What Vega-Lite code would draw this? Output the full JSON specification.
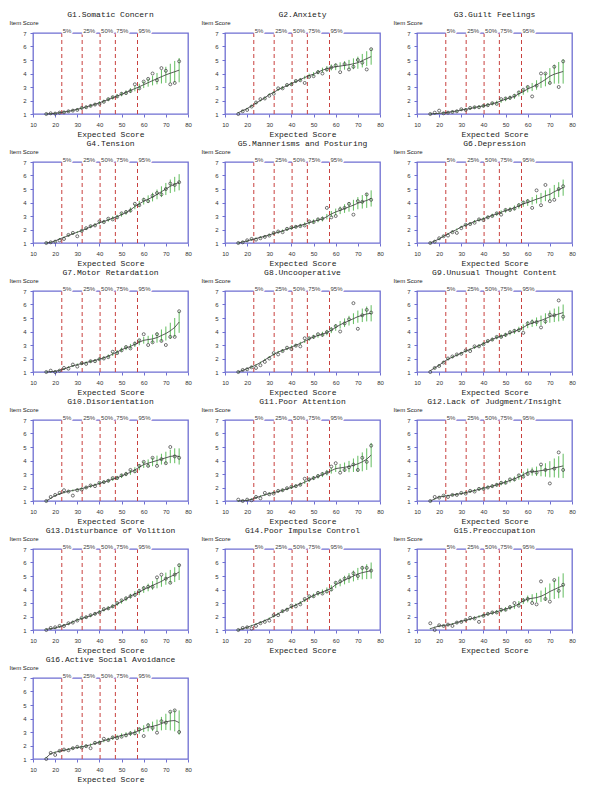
{
"$schema":"https://vega.github.io/schema/vega-lite/v6.json",
"background":"white",
"padding":{"left":8,"top":10,"right":4,"bottom":2},
"datasets":{"panels":[
{"p":1,"t":"G1.Somatic Concern"},{"p":2,"t":"G2.Anxiety"},{"p":3,"t":"G3.Guilt Feelings"},{"p":4,"t":"G4.Tension"},{"p":5,"t":"G5.Mannerisms and Posturing"},{"p":6,"t":"G6.Depression"},{"p":7,"t":"G7.Motor Retardation"},{"p":8,"t":"G8.Uncooperative"},{"p":9,"t":"G9.Unusual Thought Content"},{"p":10,"t":"G10.Disorientation"},{"p":11,"t":"G11.Poor Attention"},{"p":12,"t":"G12.Lack of Judgment/Insight"},{"p":13,"t":"G13.Disturbance of Volition"},{"p":14,"t":"G14.Poor Impulse Control"},{"p":15,"t":"G15.Preoccupation"},{"p":16,"t":"G16.Active Social Avoidance"}]},
"data":{"values":[
{"p":1,"q":"5%","v":23},{"p":1,"q":"25%","v":32.2},{"p":1,"q":"50%","v":40.3},{"p":1,"q":"75%","v":47.2},{"p":1,"q":"95%","v":57.2},
{"p":2,"q":"5%","v":23},{"p":2,"q":"25%","v":32.2},{"p":2,"q":"50%","v":40.3},{"p":2,"q":"75%","v":47.2},{"p":2,"q":"95%","v":57.2},
{"p":3,"q":"5%","v":23},{"p":3,"q":"25%","v":32.2},{"p":3,"q":"50%","v":40.3},{"p":3,"q":"75%","v":47.2},{"p":3,"q":"95%","v":57.2},
{"p":4,"q":"5%","v":23},{"p":4,"q":"25%","v":32.2},{"p":4,"q":"50%","v":40.3},{"p":4,"q":"75%","v":47.2},{"p":4,"q":"95%","v":57.2},
{"p":5,"q":"5%","v":23},{"p":5,"q":"25%","v":32.2},{"p":5,"q":"50%","v":40.3},{"p":5,"q":"75%","v":47.2},{"p":5,"q":"95%","v":57.2},
{"p":6,"q":"5%","v":23},{"p":6,"q":"25%","v":32.2},{"p":6,"q":"50%","v":40.3},{"p":6,"q":"75%","v":47.2},{"p":6,"q":"95%","v":57.2},
{"p":7,"q":"5%","v":23},{"p":7,"q":"25%","v":32.2},{"p":7,"q":"50%","v":40.3},{"p":7,"q":"75%","v":47.2},{"p":7,"q":"95%","v":57.2},
{"p":8,"q":"5%","v":23},{"p":8,"q":"25%","v":32.2},{"p":8,"q":"50%","v":40.3},{"p":8,"q":"75%","v":47.2},{"p":8,"q":"95%","v":57.2},
{"p":9,"q":"5%","v":23},{"p":9,"q":"25%","v":32.2},{"p":9,"q":"50%","v":40.3},{"p":9,"q":"75%","v":47.2},{"p":9,"q":"95%","v":57.2},
{"p":10,"q":"5%","v":23},{"p":10,"q":"25%","v":32.2},{"p":10,"q":"50%","v":40.3},{"p":10,"q":"75%","v":47.2},{"p":10,"q":"95%","v":57.2},
{"p":11,"q":"5%","v":23},{"p":11,"q":"25%","v":32.2},{"p":11,"q":"50%","v":40.3},{"p":11,"q":"75%","v":47.2},{"p":11,"q":"95%","v":57.2},
{"p":12,"q":"5%","v":23},{"p":12,"q":"25%","v":32.2},{"p":12,"q":"50%","v":40.3},{"p":12,"q":"75%","v":47.2},{"p":12,"q":"95%","v":57.2},
{"p":13,"q":"5%","v":23},{"p":13,"q":"25%","v":32.2},{"p":13,"q":"50%","v":40.3},{"p":13,"q":"75%","v":47.2},{"p":13,"q":"95%","v":57.2},
{"p":14,"q":"5%","v":23},{"p":14,"q":"25%","v":32.2},{"p":14,"q":"50%","v":40.3},{"p":14,"q":"75%","v":47.2},{"p":14,"q":"95%","v":57.2},
{"p":15,"q":"5%","v":23},{"p":15,"q":"25%","v":32.2},{"p":15,"q":"50%","v":40.3},{"p":15,"q":"75%","v":47.2},{"p":15,"q":"95%","v":57.2},
{"p":16,"q":"5%","v":23},{"p":16,"q":"25%","v":32.2},{"p":16,"q":"50%","v":40.3},{"p":16,"q":"75%","v":47.2},{"p":16,"q":"95%","v":57.2},
{"p":1,"x":16,"m":1,"o":1,"e":0.05},{"p":1,"x":18,"m":1.02,"o":1.05,"e":0.05},{"p":1,"x":20,"m":1.05,"o":1.03,"e":0.06},{"p":1,"x":22,"m":1.1,"o":1.1,"e":0.06},{"p":1,"x":24,"m":1.15,"o":1.12,"e":0.07},{"p":1,"x":26,"m":1.2,"o":1.2,"e":0.07},{"p":1,"x":28,"m":1.27,"o":1.25,"e":0.08},{"p":1,"x":30,"m":1.35,"o":1.3,"e":0.08},{"p":1,"x":32,"m":1.43,"o":1.45,"e":0.09},{"p":1,"x":34,"m":1.52,"o":1.5,"e":0.09},{"p":1,"x":36,"m":1.62,"o":1.6,"e":0.1},{"p":1,"x":38,"m":1.72,"o":1.7,"e":0.1},{"p":1,"x":40,"m":1.83,"o":1.75,"e":0.11},{"p":1,"x":42,"m":1.95,"o":1.9,"e":0.11},{"p":1,"x":44,"m":2.07,"o":2.1,"e":0.12},{"p":1,"x":46,"m":2.2,"o":2.25,"e":0.13},{"p":1,"x":48,"m":2.33,"o":2.3,"e":0.14},{"p":1,"x":50,"m":2.46,"o":2.5,"e":0.15},{"p":1,"x":52,"m":2.6,"o":2.55,"e":0.16},{"p":1,"x":54,"m":2.74,"o":2.7,"e":0.18},{"p":1,"x":56,"m":2.88,"o":3.2,"e":0.2},{"p":1,"x":58,"m":3.02,"o":2.9,"e":0.22},{"p":1,"x":60,"m":3.17,"o":3.4,"e":0.25},{"p":1,"x":62,"m":3.32,"o":3.6,"e":0.3},{"p":1,"x":64,"m":3.47,"o":4.0,"e":0.35},{"p":1,"x":66,"m":3.62,"o":3.5,"e":0.42},{"p":1,"x":68,"m":3.76,"o":4.4,"e":0.5},{"p":1,"x":70,"m":3.9,"o":4.2,"e":0.6},{"p":1,"x":72,"m":4.02,"o":3.2,"e":0.7},{"p":1,"x":74,"m":4.13,"o":3.3,"e":0.8},{"p":1,"x":76,"m":4.25,"o":4.9,"e":0.9},
{"p":2,"x":16,"m":1.1,"o":1,"e":0.05},{"p":2,"x":18,"m":1.25,"o":1.2,"e":0.05},{"p":2,"x":20,"m":1.4,"o":1.3,"e":0.06},{"p":2,"x":22,"m":1.6,"o":1.55,"e":0.06},{"p":2,"x":24,"m":1.8,"o":1.85,"e":0.07},{"p":2,"x":26,"m":2.0,"o":2.1,"e":0.07},{"p":2,"x":28,"m":2.2,"o":2.15,"e":0.08},{"p":2,"x":30,"m":2.45,"o":2.35,"e":0.08},{"p":2,"x":32,"m":2.6,"o":2.5,"e":0.09},{"p":2,"x":34,"m":2.8,"o":2.9,"e":0.09},{"p":2,"x":36,"m":2.95,"o":2.9,"e":0.1},{"p":2,"x":38,"m":3.1,"o":3.15,"e":0.1},{"p":2,"x":40,"m":3.25,"o":3.2,"e":0.11},{"p":2,"x":42,"m":3.4,"o":3.45,"e":0.11},{"p":2,"x":44,"m":3.55,"o":3.5,"e":0.12},{"p":2,"x":46,"m":3.7,"o":3.3,"e":0.13},{"p":2,"x":48,"m":3.85,"o":3.75,"e":0.14},{"p":2,"x":50,"m":3.95,"o":3.8,"e":0.15},{"p":2,"x":52,"m":4.1,"o":4.1,"e":0.16},{"p":2,"x":54,"m":4.25,"o":4.0,"e":0.18},{"p":2,"x":56,"m":4.35,"o":4.3,"e":0.2},{"p":2,"x":58,"m":4.45,"o":4.45,"e":0.22},{"p":2,"x":60,"m":4.5,"o":4.6,"e":0.25},{"p":2,"x":62,"m":4.55,"o":4.1,"e":0.28},{"p":2,"x":64,"m":4.6,"o":4.7,"e":0.32},{"p":2,"x":66,"m":4.65,"o":4.3,"e":0.36},{"p":2,"x":68,"m":4.72,"o":4.5,"e":0.4},{"p":2,"x":70,"m":4.8,"o":5.0,"e":0.45},{"p":2,"x":72,"m":4.95,"o":4.8,"e":0.5},{"p":2,"x":74,"m":5.1,"o":4.3,"e":0.55},{"p":2,"x":76,"m":5.25,"o":5.8,"e":0.6},
{"p":3,"x":16,"m":1,"o":1,"e":0.05},{"p":3,"x":18,"m":1.02,"o":1.1,"e":0.05},{"p":3,"x":20,"m":1.05,"o":1.25,"e":0.06},{"p":3,"x":22,"m":1.08,"o":1.05,"e":0.06},{"p":3,"x":24,"m":1.12,"o":1.1,"e":0.07},{"p":3,"x":26,"m":1.18,"o":1.15,"e":0.07},{"p":3,"x":28,"m":1.22,"o":1.2,"e":0.08},{"p":3,"x":30,"m":1.3,"o":1.35,"e":0.08},{"p":3,"x":32,"m":1.35,"o":1.3,"e":0.09},{"p":3,"x":34,"m":1.4,"o":1.45,"e":0.09},{"p":3,"x":36,"m":1.48,"o":1.5,"e":0.1},{"p":3,"x":38,"m":1.55,"o":1.5,"e":0.1},{"p":3,"x":40,"m":1.6,"o":1.6,"e":0.11},{"p":3,"x":42,"m":1.68,"o":1.65,"e":0.11},{"p":3,"x":44,"m":1.76,"o":1.8,"e":0.12},{"p":3,"x":46,"m":1.85,"o":1.75,"e":0.13},{"p":3,"x":48,"m":1.97,"o":2.1,"e":0.14},{"p":3,"x":50,"m":2.1,"o":2.15,"e":0.15},{"p":3,"x":52,"m":2.2,"o":2.2,"e":0.16},{"p":3,"x":54,"m":2.3,"o":2.35,"e":0.18},{"p":3,"x":56,"m":2.5,"o":2.6,"e":0.2},{"p":3,"x":58,"m":2.65,"o":2.8,"e":0.22},{"p":3,"x":60,"m":2.85,"o":3.0,"e":0.25},{"p":3,"x":62,"m":3.0,"o":2.3,"e":0.3},{"p":3,"x":64,"m":3.15,"o":3.1,"e":0.35},{"p":3,"x":66,"m":3.35,"o":4.0,"e":0.42},{"p":3,"x":68,"m":3.55,"o":4.0,"e":0.5},{"p":3,"x":70,"m":3.8,"o":3.3,"e":0.6},{"p":3,"x":72,"m":3.95,"o":4.5,"e":0.7},{"p":3,"x":74,"m":4.05,"o":3.0,"e":0.8},{"p":3,"x":76,"m":4.15,"o":4.9,"e":0.9},
{"p":4,"x":16,"m":1,"o":1,"e":0.05},{"p":4,"x":18,"m":1.05,"o":1.05,"e":0.05},{"p":4,"x":20,"m":1.15,"o":1.1,"e":0.06},{"p":4,"x":22,"m":1.3,"o":1.2,"e":0.06},{"p":4,"x":24,"m":1.42,"o":1.3,"e":0.07},{"p":4,"x":26,"m":1.55,"o":1.6,"e":0.07},{"p":4,"x":28,"m":1.68,"o":1.75,"e":0.08},{"p":4,"x":30,"m":1.8,"o":1.5,"e":0.08},{"p":4,"x":32,"m":1.92,"o":1.9,"e":0.09},{"p":4,"x":34,"m":2.05,"o":2.1,"e":0.09},{"p":4,"x":36,"m":2.2,"o":2.25,"e":0.1},{"p":4,"x":38,"m":2.35,"o":2.3,"e":0.1},{"p":4,"x":40,"m":2.5,"o":2.6,"e":0.11},{"p":4,"x":42,"m":2.6,"o":2.55,"e":0.11},{"p":4,"x":44,"m":2.7,"o":2.8,"e":0.12},{"p":4,"x":46,"m":2.85,"o":2.75,"e":0.13},{"p":4,"x":48,"m":2.95,"o":2.9,"e":0.14},{"p":4,"x":50,"m":3.1,"o":3.2,"e":0.15},{"p":4,"x":52,"m":3.25,"o":3.3,"e":0.16},{"p":4,"x":54,"m":3.45,"o":3.4,"e":0.18},{"p":4,"x":56,"m":3.7,"o":3.9,"e":0.2},{"p":4,"x":58,"m":3.9,"o":3.8,"e":0.22},{"p":4,"x":60,"m":4.1,"o":4.2,"e":0.25},{"p":4,"x":62,"m":4.25,"o":4.1,"e":0.28},{"p":4,"x":64,"m":4.4,"o":4.5,"e":0.32},{"p":4,"x":66,"m":4.6,"o":4.7,"e":0.36},{"p":4,"x":68,"m":4.8,"o":4.6,"e":0.4},{"p":4,"x":70,"m":5.0,"o":5.0,"e":0.45},{"p":4,"x":72,"m":5.2,"o":5.4,"e":0.5},{"p":4,"x":74,"m":5.35,"o":5.3,"e":0.55},{"p":4,"x":76,"m":5.5,"o":5.5,"e":0.6},
{"p":5,"x":16,"m":1,"o":1,"e":0.05},{"p":5,"x":18,"m":1.08,"o":1.05,"e":0.05},{"p":5,"x":20,"m":1.15,"o":1.2,"e":0.06},{"p":5,"x":22,"m":1.25,"o":1.3,"e":0.06},{"p":5,"x":24,"m":1.33,"o":1.25,"e":0.07},{"p":5,"x":26,"m":1.42,"o":1.35,"e":0.07},{"p":5,"x":28,"m":1.5,"o":1.45,"e":0.08},{"p":5,"x":30,"m":1.6,"o":1.55,"e":0.08},{"p":5,"x":32,"m":1.7,"o":1.75,"e":0.09},{"p":5,"x":34,"m":1.8,"o":1.85,"e":0.09},{"p":5,"x":36,"m":1.9,"o":1.8,"e":0.1},{"p":5,"x":38,"m":2.0,"o":2.05,"e":0.1},{"p":5,"x":40,"m":2.1,"o":2.15,"e":0.11},{"p":5,"x":42,"m":2.2,"o":2.2,"e":0.11},{"p":5,"x":44,"m":2.3,"o":2.25,"e":0.12},{"p":5,"x":46,"m":2.4,"o":2.3,"e":0.13},{"p":5,"x":48,"m":2.5,"o":2.6,"e":0.14},{"p":5,"x":50,"m":2.6,"o":2.55,"e":0.15},{"p":5,"x":52,"m":2.7,"o":2.75,"e":0.16},{"p":5,"x":54,"m":2.78,"o":2.8,"e":0.18},{"p":5,"x":56,"m":2.95,"o":3.6,"e":0.2},{"p":5,"x":58,"m":3.15,"o":2.9,"e":0.22},{"p":5,"x":60,"m":3.3,"o":3.0,"e":0.25},{"p":5,"x":62,"m":3.42,"o":3.5,"e":0.28},{"p":5,"x":64,"m":3.55,"o":3.6,"e":0.32},{"p":5,"x":66,"m":3.68,"o":3.9,"e":0.36},{"p":5,"x":68,"m":3.8,"o":3.1,"e":0.4},{"p":5,"x":70,"m":3.95,"o":4.1,"e":0.45},{"p":5,"x":72,"m":4.05,"o":4.05,"e":0.5},{"p":5,"x":74,"m":4.15,"o":4.6,"e":0.55},{"p":5,"x":76,"m":4.3,"o":4.2,"e":0.6},
{"p":6,"x":16,"m":1,"o":1,"e":0.05},{"p":6,"x":18,"m":1.15,"o":1.1,"e":0.05},{"p":6,"x":20,"m":1.3,"o":1.35,"e":0.06},{"p":6,"x":22,"m":1.5,"o":1.5,"e":0.06},{"p":6,"x":24,"m":1.68,"o":1.55,"e":0.07},{"p":6,"x":26,"m":1.85,"o":1.8,"e":0.07},{"p":6,"x":28,"m":2.0,"o":1.75,"e":0.08},{"p":6,"x":30,"m":2.2,"o":2.1,"e":0.08},{"p":6,"x":32,"m":2.32,"o":2.35,"e":0.09},{"p":6,"x":34,"m":2.45,"o":2.4,"e":0.09},{"p":6,"x":36,"m":2.6,"o":2.5,"e":0.1},{"p":6,"x":38,"m":2.7,"o":2.75,"e":0.1},{"p":6,"x":40,"m":2.8,"o":2.7,"e":0.11},{"p":6,"x":42,"m":2.92,"o":2.9,"e":0.11},{"p":6,"x":44,"m":3.05,"o":3.0,"e":0.12},{"p":6,"x":46,"m":3.15,"o":3.2,"e":0.13},{"p":6,"x":48,"m":3.28,"o":3.1,"e":0.14},{"p":6,"x":50,"m":3.4,"o":3.45,"e":0.15},{"p":6,"x":52,"m":3.5,"o":3.45,"e":0.16},{"p":6,"x":54,"m":3.6,"o":3.55,"e":0.18},{"p":6,"x":56,"m":3.75,"o":3.8,"e":0.2},{"p":6,"x":58,"m":3.9,"o":4.0,"e":0.22},{"p":6,"x":60,"m":4.0,"o":4.1,"e":0.25},{"p":6,"x":62,"m":4.12,"o":3.6,"e":0.28},{"p":6,"x":64,"m":4.25,"o":4.9,"e":0.32},{"p":6,"x":66,"m":4.35,"o":3.8,"e":0.36},{"p":6,"x":68,"m":4.5,"o":5.3,"e":0.4},{"p":6,"x":70,"m":4.6,"o":4.1,"e":0.45},{"p":6,"x":72,"m":4.8,"o":4.2,"e":0.5},{"p":6,"x":74,"m":4.95,"o":5.0,"e":0.55},{"p":6,"x":76,"m":5.1,"o":5.2,"e":0.6},
{"p":7,"x":16,"m":1,"o":1,"e":0.05},{"p":7,"x":18,"m":1.02,"o":1.1,"e":0.05},{"p":7,"x":20,"m":1.05,"o":1,"e":0.06},{"p":7,"x":22,"m":1.12,"o":1.1,"e":0.06},{"p":7,"x":24,"m":1.22,"o":1.3,"e":0.07},{"p":7,"x":26,"m":1.35,"o":1.25,"e":0.07},{"p":7,"x":28,"m":1.45,"o":1.55,"e":0.08},{"p":7,"x":30,"m":1.55,"o":1.4,"e":0.08},{"p":7,"x":32,"m":1.62,"o":1.65,"e":0.09},{"p":7,"x":34,"m":1.7,"o":1.6,"e":0.09},{"p":7,"x":36,"m":1.78,"o":1.8,"e":0.1},{"p":7,"x":38,"m":1.86,"o":1.8,"e":0.1},{"p":7,"x":40,"m":1.95,"o":1.95,"e":0.11},{"p":7,"x":42,"m":2.05,"o":2.0,"e":0.11},{"p":7,"x":44,"m":2.18,"o":2.1,"e":0.12},{"p":7,"x":46,"m":2.32,"o":2.5,"e":0.13},{"p":7,"x":48,"m":2.48,"o":2.4,"e":0.14},{"p":7,"x":50,"m":2.65,"o":2.6,"e":0.15},{"p":7,"x":52,"m":2.78,"o":2.85,"e":0.16},{"p":7,"x":54,"m":2.9,"o":2.75,"e":0.18},{"p":7,"x":56,"m":3.05,"o":3.1,"e":0.2},{"p":7,"x":58,"m":3.2,"o":3.35,"e":0.22},{"p":7,"x":60,"m":3.35,"o":3.8,"e":0.25},{"p":7,"x":62,"m":3.4,"o":3.0,"e":0.28},{"p":7,"x":64,"m":3.45,"o":3.2,"e":0.32},{"p":7,"x":66,"m":3.55,"o":3.8,"e":0.38},{"p":7,"x":68,"m":3.7,"o":3.3,"e":0.45},{"p":7,"x":70,"m":3.85,"o":3.0,"e":0.52},{"p":7,"x":72,"m":4.05,"o":3.6,"e":0.6},{"p":7,"x":74,"m":4.3,"o":3.6,"e":0.7},{"p":7,"x":76,"m":4.7,"o":5.5,"e":0.8},
{"p":8,"x":16,"m":1,"o":1,"e":0.05},{"p":8,"x":18,"m":1.12,"o":1.15,"e":0.05},{"p":8,"x":20,"m":1.25,"o":1.2,"e":0.06},{"p":8,"x":22,"m":1.38,"o":1.35,"e":0.06},{"p":8,"x":24,"m":1.52,"o":1.3,"e":0.07},{"p":8,"x":26,"m":1.7,"o":1.5,"e":0.07},{"p":8,"x":28,"m":1.9,"o":1.75,"e":0.08},{"p":8,"x":30,"m":2.1,"o":2.0,"e":0.08},{"p":8,"x":32,"m":2.3,"o":2.4,"e":0.09},{"p":8,"x":34,"m":2.48,"o":2.3,"e":0.09},{"p":8,"x":36,"m":2.6,"o":2.55,"e":0.1},{"p":8,"x":38,"m":2.72,"o":2.8,"e":0.1},{"p":8,"x":40,"m":2.85,"o":2.7,"e":0.11},{"p":8,"x":42,"m":2.98,"o":2.95,"e":0.11},{"p":8,"x":44,"m":3.12,"o":2.9,"e":0.12},{"p":8,"x":46,"m":3.28,"o":3.5,"e":0.13},{"p":8,"x":48,"m":3.45,"o":3.5,"e":0.14},{"p":8,"x":50,"m":3.6,"o":3.6,"e":0.15},{"p":8,"x":52,"m":3.7,"o":3.8,"e":0.16},{"p":8,"x":54,"m":3.8,"o":3.75,"e":0.18},{"p":8,"x":56,"m":3.92,"o":3.95,"e":0.2},{"p":8,"x":58,"m":4.1,"o":4.15,"e":0.22},{"p":8,"x":60,"m":4.3,"o":4.4,"e":0.25},{"p":8,"x":62,"m":4.5,"o":4.0,"e":0.28},{"p":8,"x":64,"m":4.65,"o":4.6,"e":0.32},{"p":8,"x":66,"m":4.8,"o":4.9,"e":0.36},{"p":8,"x":68,"m":4.95,"o":6.1,"e":0.4},{"p":8,"x":70,"m":5.1,"o":4.2,"e":0.45},{"p":8,"x":72,"m":5.2,"o":5.2,"e":0.5},{"p":8,"x":74,"m":5.3,"o":5.6,"e":0.55},{"p":8,"x":76,"m":5.35,"o":5.4,"e":0.6},
{"p":9,"x":16,"m":1.1,"o":1,"e":0.05},{"p":9,"x":18,"m":1.3,"o":1.3,"e":0.05},{"p":9,"x":20,"m":1.5,"o":1.45,"e":0.06},{"p":9,"x":22,"m":1.75,"o":1.7,"e":0.06},{"p":9,"x":24,"m":1.95,"o":2.0,"e":0.07},{"p":9,"x":26,"m":2.1,"o":2.15,"e":0.07},{"p":9,"x":28,"m":2.25,"o":2.3,"e":0.08},{"p":9,"x":30,"m":2.4,"o":2.35,"e":0.08},{"p":9,"x":32,"m":2.55,"o":2.6,"e":0.09},{"p":9,"x":34,"m":2.68,"o":2.55,"e":0.09},{"p":9,"x":36,"m":2.82,"o":2.9,"e":0.1},{"p":9,"x":38,"m":2.95,"o":2.9,"e":0.1},{"p":9,"x":40,"m":3.1,"o":3.05,"e":0.11},{"p":9,"x":42,"m":3.25,"o":3.3,"e":0.11},{"p":9,"x":44,"m":3.42,"o":3.4,"e":0.12},{"p":9,"x":46,"m":3.55,"o":3.6,"e":0.13},{"p":9,"x":48,"m":3.65,"o":3.6,"e":0.14},{"p":9,"x":50,"m":3.75,"o":3.75,"e":0.15},{"p":9,"x":52,"m":3.88,"o":3.95,"e":0.16},{"p":9,"x":54,"m":4.0,"o":4.05,"e":0.18},{"p":9,"x":56,"m":4.15,"o":4.1,"e":0.2},{"p":9,"x":58,"m":4.3,"o":3.9,"e":0.22},{"p":9,"x":60,"m":4.5,"o":4.6,"e":0.25},{"p":9,"x":62,"m":4.62,"o":4.7,"e":0.28},{"p":9,"x":64,"m":4.72,"o":4.7,"e":0.32},{"p":9,"x":66,"m":4.82,"o":4.3,"e":0.36},{"p":9,"x":68,"m":4.95,"o":4.75,"e":0.4},{"p":9,"x":70,"m":5.1,"o":5.25,"e":0.45},{"p":9,"x":72,"m":5.2,"o":5.2,"e":0.5},{"p":9,"x":74,"m":5.3,"o":6.3,"e":0.55},{"p":9,"x":76,"m":5.4,"o":5.1,"e":0.6},
{"p":10,"x":16,"m":1,"o":1,"e":0.05},{"p":10,"x":18,"m":1.2,"o":1.3,"e":0.05},{"p":10,"x":20,"m":1.4,"o":1.45,"e":0.06},{"p":10,"x":22,"m":1.52,"o":1.6,"e":0.06},{"p":10,"x":24,"m":1.63,"o":1.8,"e":0.07},{"p":10,"x":26,"m":1.72,"o":1.7,"e":0.07},{"p":10,"x":28,"m":1.78,"o":1.4,"e":0.08},{"p":10,"x":30,"m":1.85,"o":1.8,"e":0.08},{"p":10,"x":32,"m":1.92,"o":1.85,"e":0.09},{"p":10,"x":34,"m":2.0,"o":2.0,"e":0.09},{"p":10,"x":36,"m":2.1,"o":2.15,"e":0.1},{"p":10,"x":38,"m":2.2,"o":2.1,"e":0.1},{"p":10,"x":40,"m":2.3,"o":2.35,"e":0.11},{"p":10,"x":42,"m":2.4,"o":2.4,"e":0.11},{"p":10,"x":44,"m":2.5,"o":2.5,"e":0.12},{"p":10,"x":46,"m":2.62,"o":2.7,"e":0.13},{"p":10,"x":48,"m":2.72,"o":2.7,"e":0.14},{"p":10,"x":50,"m":2.85,"o":2.9,"e":0.15},{"p":10,"x":52,"m":3.0,"o":3.0,"e":0.16},{"p":10,"x":54,"m":3.12,"o":3.3,"e":0.18},{"p":10,"x":56,"m":3.3,"o":3.2,"e":0.2},{"p":10,"x":58,"m":3.5,"o":3.6,"e":0.22},{"p":10,"x":60,"m":3.7,"o":3.9,"e":0.25},{"p":10,"x":62,"m":3.8,"o":3.6,"e":0.28},{"p":10,"x":64,"m":3.9,"o":4.2,"e":0.32},{"p":10,"x":66,"m":4.0,"o":3.6,"e":0.36},{"p":10,"x":68,"m":4.1,"o":4.1,"e":0.4},{"p":10,"x":70,"m":4.2,"o":3.8,"e":0.45},{"p":10,"x":72,"m":4.3,"o":5.0,"e":0.5},{"p":10,"x":74,"m":4.35,"o":4.3,"e":0.55},{"p":10,"x":76,"m":4.3,"o":4.2,"e":0.6},
{"p":11,"x":16,"m":1,"o":1.1,"e":0.05},{"p":11,"x":18,"m":1.02,"o":1,"e":0.05},{"p":11,"x":20,"m":1.05,"o":1.1,"e":0.06},{"p":11,"x":22,"m":1.12,"o":1.05,"e":0.06},{"p":11,"x":24,"m":1.25,"o":1.3,"e":0.07},{"p":11,"x":26,"m":1.35,"o":1.2,"e":0.07},{"p":11,"x":28,"m":1.45,"o":1.6,"e":0.08},{"p":11,"x":30,"m":1.55,"o":1.5,"e":0.08},{"p":11,"x":32,"m":1.62,"o":1.55,"e":0.09},{"p":11,"x":34,"m":1.7,"o":1.75,"e":0.09},{"p":11,"x":36,"m":1.8,"o":1.8,"e":0.1},{"p":11,"x":38,"m":1.9,"o":1.95,"e":0.1},{"p":11,"x":40,"m":2.0,"o":2.05,"e":0.11},{"p":11,"x":42,"m":2.12,"o":2.1,"e":0.11},{"p":11,"x":44,"m":2.25,"o":2.2,"e":0.12},{"p":11,"x":46,"m":2.4,"o":2.65,"e":0.13},{"p":11,"x":48,"m":2.55,"o":2.6,"e":0.14},{"p":11,"x":50,"m":2.7,"o":2.7,"e":0.15},{"p":11,"x":52,"m":2.82,"o":2.85,"e":0.16},{"p":11,"x":54,"m":2.95,"o":3.0,"e":0.18},{"p":11,"x":56,"m":3.1,"o":3.1,"e":0.2},{"p":11,"x":58,"m":3.25,"o":3.55,"e":0.22},{"p":11,"x":60,"m":3.4,"o":3.8,"e":0.25},{"p":11,"x":62,"m":3.45,"o":3.1,"e":0.3},{"p":11,"x":64,"m":3.5,"o":3.3,"e":0.35},{"p":11,"x":66,"m":3.55,"o":3.5,"e":0.42},{"p":11,"x":68,"m":3.65,"o":3.7,"e":0.5},{"p":11,"x":70,"m":3.75,"o":3.3,"e":0.6},{"p":11,"x":72,"m":3.9,"o":4.2,"e":0.7},{"p":11,"x":74,"m":4.1,"o":3.9,"e":0.8},{"p":11,"x":76,"m":4.4,"o":5.1,"e":0.9},
{"p":12,"x":16,"m":1,"o":1,"e":0.05},{"p":12,"x":18,"m":1.15,"o":1.3,"e":0.05},{"p":12,"x":20,"m":1.3,"o":1.25,"e":0.06},{"p":12,"x":22,"m":1.35,"o":1.4,"e":0.06},{"p":12,"x":24,"m":1.4,"o":1.3,"e":0.07},{"p":12,"x":26,"m":1.45,"o":1.45,"e":0.07},{"p":12,"x":28,"m":1.5,"o":1.45,"e":0.08},{"p":12,"x":30,"m":1.55,"o":1.6,"e":0.08},{"p":12,"x":32,"m":1.62,"o":1.55,"e":0.09},{"p":12,"x":34,"m":1.7,"o":1.75,"e":0.09},{"p":12,"x":36,"m":1.78,"o":1.7,"e":0.1},{"p":12,"x":38,"m":1.86,"o":1.9,"e":0.1},{"p":12,"x":40,"m":1.95,"o":1.9,"e":0.11},{"p":12,"x":42,"m":2.03,"o":2.0,"e":0.11},{"p":12,"x":44,"m":2.1,"o":2.1,"e":0.12},{"p":12,"x":46,"m":2.2,"o":2.2,"e":0.13},{"p":12,"x":48,"m":2.3,"o":2.35,"e":0.14},{"p":12,"x":50,"m":2.4,"o":2.35,"e":0.15},{"p":12,"x":52,"m":2.52,"o":2.6,"e":0.16},{"p":12,"x":54,"m":2.64,"o":2.6,"e":0.18},{"p":12,"x":56,"m":2.78,"o":2.9,"e":0.2},{"p":12,"x":58,"m":2.95,"o":2.8,"e":0.22},{"p":12,"x":60,"m":3.15,"o":3.0,"e":0.25},{"p":12,"x":62,"m":3.18,"o":3.2,"e":0.3},{"p":12,"x":64,"m":3.2,"o":3.1,"e":0.35},{"p":12,"x":66,"m":3.25,"o":3.7,"e":0.42},{"p":12,"x":68,"m":3.3,"o":3.3,"e":0.5},{"p":12,"x":70,"m":3.35,"o":2.3,"e":0.6},{"p":12,"x":72,"m":3.45,"o":3.4,"e":0.7},{"p":12,"x":74,"m":3.52,"o":4.6,"e":0.8},{"p":12,"x":76,"m":3.6,"o":3.3,"e":0.9},
{"p":13,"x":16,"m":1.05,"o":1,"e":0.05},{"p":13,"x":18,"m":1.1,"o":1.15,"e":0.05},{"p":13,"x":20,"m":1.15,"o":1.2,"e":0.06},{"p":13,"x":22,"m":1.25,"o":1.3,"e":0.06},{"p":13,"x":24,"m":1.35,"o":1.3,"e":0.07},{"p":13,"x":26,"m":1.45,"o":1.5,"e":0.07},{"p":13,"x":28,"m":1.6,"o":1.55,"e":0.08},{"p":13,"x":30,"m":1.75,"o":1.7,"e":0.08},{"p":13,"x":32,"m":1.85,"o":1.9,"e":0.09},{"p":13,"x":34,"m":1.95,"o":1.95,"e":0.09},{"p":13,"x":36,"m":2.05,"o":2.1,"e":0.1},{"p":13,"x":38,"m":2.2,"o":2.2,"e":0.1},{"p":13,"x":40,"m":2.35,"o":2.3,"e":0.11},{"p":13,"x":42,"m":2.48,"o":2.55,"e":0.11},{"p":13,"x":44,"m":2.62,"o":2.6,"e":0.12},{"p":13,"x":46,"m":2.76,"o":2.75,"e":0.13},{"p":13,"x":48,"m":2.92,"o":3.0,"e":0.14},{"p":13,"x":50,"m":3.1,"o":3.2,"e":0.15},{"p":13,"x":52,"m":3.3,"o":3.35,"e":0.16},{"p":13,"x":54,"m":3.5,"o":3.5,"e":0.18},{"p":13,"x":56,"m":3.68,"o":3.6,"e":0.2},{"p":13,"x":58,"m":3.8,"o":3.9,"e":0.22},{"p":13,"x":60,"m":4.0,"o":4.1,"e":0.25},{"p":13,"x":62,"m":4.15,"o":4.2,"e":0.28},{"p":13,"x":64,"m":4.3,"o":4.2,"e":0.32},{"p":13,"x":66,"m":4.45,"o":4.9,"e":0.36},{"p":13,"x":68,"m":4.6,"o":5.1,"e":0.4},{"p":13,"x":70,"m":4.8,"o":4.8,"e":0.45},{"p":13,"x":72,"m":4.95,"o":4.5,"e":0.5},{"p":13,"x":74,"m":5.1,"o":5.1,"e":0.55},{"p":13,"x":76,"m":5.3,"o":5.8,"e":0.6},
{"p":14,"x":16,"m":1,"o":1,"e":0.05},{"p":14,"x":18,"m":1.1,"o":1.15,"e":0.05},{"p":14,"x":20,"m":1.2,"o":1.2,"e":0.06},{"p":14,"x":22,"m":1.32,"o":1.1,"e":0.06},{"p":14,"x":24,"m":1.44,"o":1.3,"e":0.07},{"p":14,"x":26,"m":1.56,"o":1.5,"e":0.07},{"p":14,"x":28,"m":1.7,"o":1.6,"e":0.08},{"p":14,"x":30,"m":1.85,"o":1.7,"e":0.08},{"p":14,"x":32,"m":2.02,"o":2.1,"e":0.09},{"p":14,"x":34,"m":2.2,"o":2.1,"e":0.09},{"p":14,"x":36,"m":2.38,"o":2.4,"e":0.1},{"p":14,"x":38,"m":2.55,"o":2.5,"e":0.1},{"p":14,"x":40,"m":2.7,"o":2.8,"e":0.11},{"p":14,"x":42,"m":2.86,"o":2.75,"e":0.11},{"p":14,"x":44,"m":3.02,"o":2.9,"e":0.12},{"p":14,"x":46,"m":3.2,"o":3.3,"e":0.13},{"p":14,"x":48,"m":3.38,"o":3.5,"e":0.14},{"p":14,"x":50,"m":3.55,"o":3.5,"e":0.15},{"p":14,"x":52,"m":3.7,"o":3.75,"e":0.16},{"p":14,"x":54,"m":3.82,"o":3.7,"e":0.18},{"p":14,"x":56,"m":3.95,"o":3.85,"e":0.2},{"p":14,"x":58,"m":4.1,"o":4.0,"e":0.22},{"p":14,"x":60,"m":4.35,"o":4.5,"e":0.25},{"p":14,"x":62,"m":4.52,"o":4.6,"e":0.28},{"p":14,"x":64,"m":4.7,"o":4.8,"e":0.32},{"p":14,"x":66,"m":4.85,"o":4.9,"e":0.36},{"p":14,"x":68,"m":5.0,"o":5.2,"e":0.4},{"p":14,"x":70,"m":5.15,"o":5.0,"e":0.45},{"p":14,"x":72,"m":5.25,"o":5.6,"e":0.5},{"p":14,"x":74,"m":5.32,"o":5.6,"e":0.55},{"p":14,"x":76,"m":5.4,"o":5.4,"e":0.6},
{"p":15,"x":16,"m":1.1,"o":1.5,"e":0.05},{"p":15,"x":18,"m":1.2,"o":1,"e":0.05},{"p":15,"x":20,"m":1.3,"o":1.35,"e":0.06},{"p":15,"x":22,"m":1.33,"o":1.3,"e":0.06},{"p":15,"x":24,"m":1.38,"o":1.4,"e":0.07},{"p":15,"x":26,"m":1.45,"o":1.3,"e":0.07},{"p":15,"x":28,"m":1.55,"o":1.55,"e":0.08},{"p":15,"x":30,"m":1.65,"o":1.6,"e":0.08},{"p":15,"x":32,"m":1.72,"o":1.75,"e":0.09},{"p":15,"x":34,"m":1.8,"o":1.9,"e":0.09},{"p":15,"x":36,"m":1.9,"o":1.85,"e":0.1},{"p":15,"x":38,"m":2.0,"o":1.6,"e":0.1},{"p":15,"x":40,"m":2.1,"o":2.05,"e":0.11},{"p":15,"x":42,"m":2.18,"o":2.2,"e":0.11},{"p":15,"x":44,"m":2.26,"o":2.3,"e":0.12},{"p":15,"x":46,"m":2.35,"o":2.3,"e":0.13},{"p":15,"x":48,"m":2.45,"o":2.5,"e":0.14},{"p":15,"x":50,"m":2.55,"o":2.5,"e":0.15},{"p":15,"x":52,"m":2.65,"o":2.7,"e":0.16},{"p":15,"x":54,"m":2.75,"o":3.0,"e":0.18},{"p":15,"x":56,"m":2.95,"o":2.8,"e":0.2},{"p":15,"x":58,"m":3.15,"o":3.2,"e":0.22},{"p":15,"x":60,"m":3.3,"o":3.3,"e":0.25},{"p":15,"x":62,"m":3.35,"o":3.0,"e":0.3},{"p":15,"x":64,"m":3.4,"o":2.9,"e":0.35},{"p":15,"x":66,"m":3.5,"o":4.6,"e":0.42},{"p":15,"x":68,"m":3.65,"o":3.3,"e":0.5},{"p":15,"x":70,"m":3.85,"o":3.1,"e":0.6},{"p":15,"x":72,"m":4.0,"o":4.7,"e":0.7},{"p":15,"x":74,"m":4.15,"o":3.9,"e":0.8},{"p":15,"x":76,"m":4.3,"o":4.35,"e":0.9},
{"p":16,"x":16,"m":1.1,"o":1,"e":0.05},{"p":16,"x":18,"m":1.4,"o":1.45,"e":0.05},{"p":16,"x":20,"m":1.5,"o":1.3,"e":0.06},{"p":16,"x":22,"m":1.58,"o":1.6,"e":0.06},{"p":16,"x":24,"m":1.65,"o":1.7,"e":0.07},{"p":16,"x":26,"m":1.72,"o":1.65,"e":0.07},{"p":16,"x":28,"m":1.8,"o":1.8,"e":0.08},{"p":16,"x":30,"m":1.85,"o":1.9,"e":0.08},{"p":16,"x":32,"m":1.9,"o":1.85,"e":0.09},{"p":16,"x":34,"m":1.97,"o":1.95,"e":0.09},{"p":16,"x":36,"m":2.05,"o":1.8,"e":0.1},{"p":16,"x":38,"m":2.15,"o":2.2,"e":0.1},{"p":16,"x":40,"m":2.25,"o":2.2,"e":0.11},{"p":16,"x":42,"m":2.35,"o":2.5,"e":0.11},{"p":16,"x":44,"m":2.45,"o":2.4,"e":0.12},{"p":16,"x":46,"m":2.55,"o":2.6,"e":0.13},{"p":16,"x":48,"m":2.65,"o":2.55,"e":0.14},{"p":16,"x":50,"m":2.75,"o":2.65,"e":0.15},{"p":16,"x":52,"m":2.82,"o":2.75,"e":0.16},{"p":16,"x":54,"m":2.88,"o":2.9,"e":0.18},{"p":16,"x":56,"m":2.98,"o":2.9,"e":0.2},{"p":16,"x":58,"m":3.1,"o":3.2,"e":0.22},{"p":16,"x":60,"m":3.25,"o":2.7,"e":0.25},{"p":16,"x":62,"m":3.35,"o":3.5,"e":0.3},{"p":16,"x":64,"m":3.42,"o":3.3,"e":0.35},{"p":16,"x":66,"m":3.5,"o":2.95,"e":0.42},{"p":16,"x":68,"m":3.62,"o":3.8,"e":0.5},{"p":16,"x":70,"m":3.75,"o":3.7,"e":0.6},{"p":16,"x":72,"m":3.82,"o":4.5,"e":0.7},{"p":16,"x":74,"m":3.85,"o":4.6,"e":0.8},{"p":16,"x":76,"m":3.7,"o":3.0,"e":0.9}
]},
"transform":[{"lookup":"p","from":{"data":{"name":"panels"},"key":"p","fields":["t"]}}],
"facet":{"field":"t","type":"nominal","title":null,"sort":{"field":"p","op":"min"},
 "header":{"labelFont":"Liberation Mono","labelFontSize":8,"labelColor":"#222","labelPadding":0}},
"columns":3,
"spacing":{"row":0,"column":8},
"resolve":{"axis":{"x":"independent","y":"independent"}},
"spec":{
 "width":155,"height":81,
 "layer":[
  {"transform":[{"filter":"isValid(datum.v)"}],
   "mark":{"type":"rule","color":"#c8413f","strokeDash":[4,3],"strokeWidth":1},
   "encoding":{"x":{"field":"v","type":"quantitative","title":"Expected Score","scale":{"domain":[10,80],"nice":false},"axis":{"values":[10,20,30,40,50,60,70,80],"labelOverlap":false}}}},
  {"transform":[{"filter":"isValid(datum.v)"}],
   "mark":{"type":"text","align":"left","baseline":"middle","dx":1,"dy":-2,"font":"Liberation Sans","fontSize":6,"stroke":"white","strokeWidth":3,"fill":"white"},
   "encoding":{"x":{"field":"v","type":"quantitative","title":"Expected Score","scale":{"domain":[10,80],"nice":false},"axis":{"values":[10,20,30,40,50,60,70,80],"labelOverlap":false}},"y":{"datum":7,"type":"quantitative","title":"Item Score","scale":{"domain":[1,7],"nice":false},"axis":{"values":[1,2,3,4,5,6,7],"labelOverlap":false}},"text":{"field":"q"}}},
  {"transform":[{"filter":"isValid(datum.v)"}],
   "mark":{"type":"text","align":"left","baseline":"middle","dx":1,"dy":-2,"font":"Liberation Sans","fontSize":6,"fill":"#444"},
   "encoding":{"x":{"field":"v","type":"quantitative","title":"Expected Score","scale":{"domain":[10,80],"nice":false},"axis":{"values":[10,20,30,40,50,60,70,80],"labelOverlap":false}},"y":{"datum":7,"type":"quantitative","title":"Item Score","scale":{"domain":[1,7],"nice":false},"axis":{"values":[1,2,3,4,5,6,7],"labelOverlap":false}},"text":{"field":"q"}}},
  {"transform":[{"filter":"isValid(datum.x)"}],
   "mark":{"type":"errorbar","color":"#62bd5f","thickness":1},
   "encoding":{"x":{"field":"x","type":"quantitative","title":"Expected Score","scale":{"domain":[10,80],"nice":false},"axis":{"values":[10,20,30,40,50,60,70,80],"labelOverlap":false}},"y":{"field":"m","type":"quantitative","title":"Item Score","scale":{"domain":[1,7],"nice":false},"axis":{"values":[1,2,3,4,5,6,7],"labelOverlap":false}},"yError":{"field":"e"}}},
  {"transform":[{"filter":"isValid(datum.x)"}],
   "mark":{"type":"line","color":"#333","strokeWidth":0.8},
   "encoding":{"x":{"field":"x","type":"quantitative","title":"Expected Score","scale":{"domain":[10,80],"nice":false},"axis":{"values":[10,20,30,40,50,60,70,80],"labelOverlap":false}},"y":{"field":"m","type":"quantitative","title":"Item Score","scale":{"domain":[1,7],"nice":false},"axis":{"values":[1,2,3,4,5,6,7],"labelOverlap":false}}}},
  {"transform":[{"filter":"isValid(datum.x)"}],
   "mark":{"type":"point","shape":"circle","filled":false,"color":"#3a3a3a","size":9,"strokeWidth":0.7,"opacity":1},
   "encoding":{"x":{"field":"x","type":"quantitative","title":"Expected Score","scale":{"domain":[10,80],"nice":false},"axis":{"values":[10,20,30,40,50,60,70,80],"labelOverlap":false}},"y":{"field":"o","type":"quantitative","title":"Item Score","scale":{"domain":[1,7],"nice":false},"axis":{"values":[1,2,3,4,5,6,7],"labelOverlap":false}}}}
 ]
},
"config":{
 "view":{"stroke":"#6f6fd2","strokeWidth":1.3},
 "axis":{"domain":false,"grid":false,"labelFont":"Liberation Sans","labelFontSize":6,"labelColor":"#333","labelOverlap":false,"tickColor":"#6f6fd2","tickSize":3,"titleFont":"Liberation Mono","titleFontSize":8,"titleFontWeight":"normal","titleColor":"#222"},
 "axisX":{"labelPadding":4,"titlePadding":3,"labelFlush":false},
 "axisY":{"labelPadding":4,"titleAngle":0,"titleAlign":"left","titleBaseline":"middle","titleX":-24,"titleY":-11,"titleFont":"Liberation Sans","titleFontSize":6}
}
}
